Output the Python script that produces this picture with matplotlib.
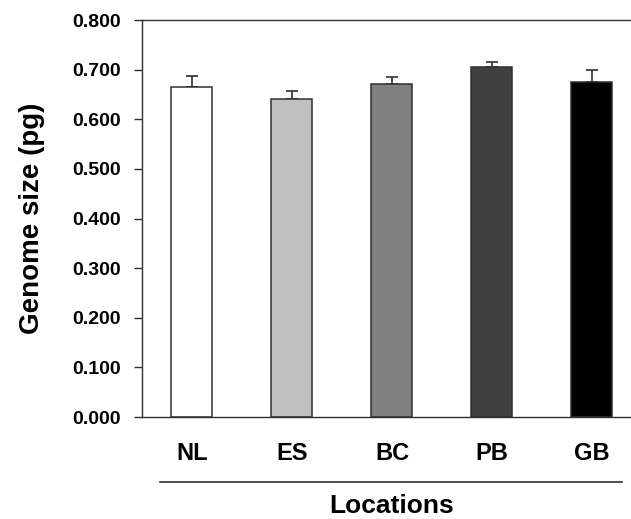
import numpy as np
import matplotlib.pyplot as plt
from matplotlib.transforms import blended_transform_factory

plt.rcParams['font.family'] = ['Liberation Sans', 'DejaVu Sans']
plt.rcParams['font.weight'] = 'bold'

# Data
locations = ["NL", "ES", "BC", "PB", "GB"]
genome_size = [0.665, 0.640, 0.672, 0.706, 0.675]
genome_err = [0.023, 0.017, 0.013, 0.009, 0.024]
bar_colors = ["#ffffff", "#c0c0c0", "#808080", "#404040", "#000000"]
yticks = [0.0, 0.1, 0.2, 0.3, 0.4, 0.5, 0.6, 0.7, 0.8]

fig = plt.figure(figsize=(6.31, 5.19), dpi=100)
ax = fig.add_axes([0.2250, 0.1965, 0.7924, 0.7649])

x = np.arange(len(locations))
edge = "#303030"
ax.bar(x, genome_size, width=0.41, color=bar_colors, edgecolor=edge,
       linewidth=1.1, zorder=2)
ax.errorbar(x, genome_size, yerr=[np.zeros(len(x)), genome_err], fmt="none",
            ecolor=edge, elinewidth=1.2, capsize=4, capthick=1.2, zorder=1)

ax.set_xlim(-0.5, 4.5)
ax.set_ylim(0, 0.8)
ax.set_yticks(yticks)
ax.set_yticklabels([f"{v:.3f}" for v in yticks], fontsize=14, fontweight="bold")
ax.set_xticks(x)
ax.set_xticklabels(locations, fontsize=17, fontweight="bold")
ax.tick_params(axis="x", length=0, pad=18)
ax.tick_params(axis="y", length=6, width=1.0, color=edge, pad=9, direction="out")

for side in ["left", "top", "bottom"]:
    ax.spines[side].set_color(edge)
    ax.spines[side].set_linewidth(1.0)
ax.spines["right"].set_visible(False)

ax.set_ylabel("Genome size (pg)", fontsize=20, fontweight="bold", labelpad=20)
ax.set_xlabel("Locations", fontsize=19, fontweight="bold", labelpad=21)

# separator line above the x-axis title
trans = blended_transform_factory(ax.transData, ax.transAxes)
ax.plot([-0.32, 4.30], [-0.163, -0.163], color=edge, lw=1.2,
        transform=trans, clip_on=False)

fig.savefig("out.png", dpi=100)
